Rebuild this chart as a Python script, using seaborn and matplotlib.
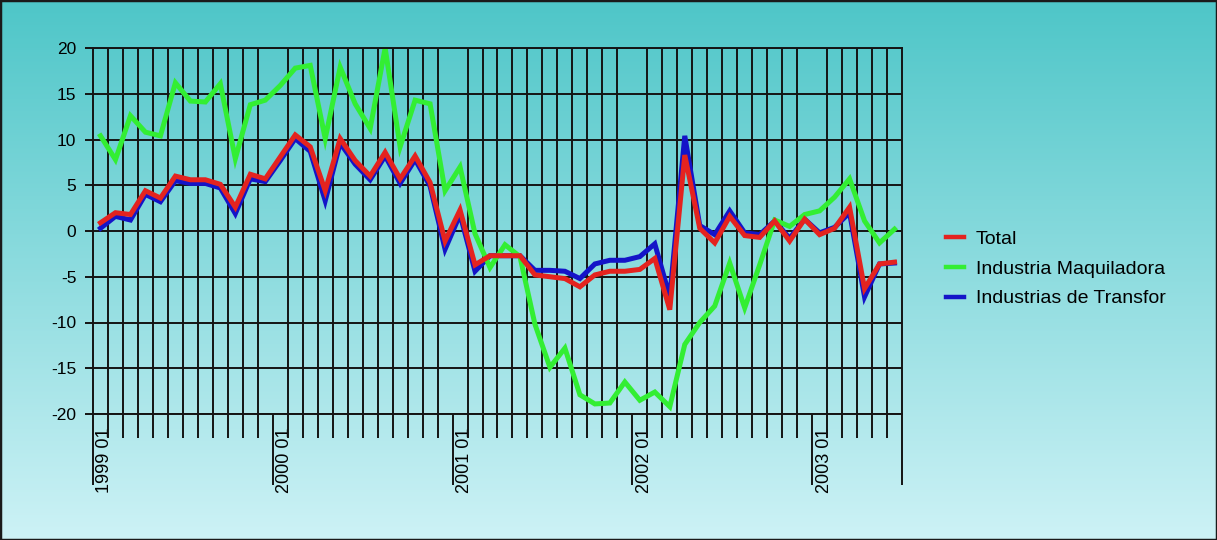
import numpy as np
import pandas as pd
import matplotlib
matplotlib.use("Agg")
import matplotlib.pyplot as plt
from matplotlib.patches import Rectangle
from matplotlib.lines import Line2D
import seaborn as sns

# Monthly growth series, January 1999 to June 2003
total = [0.9, 2.0, 1.8, 4.4, 3.6, 6.0, 5.6, 5.6, 5.1, 2.6, 6.2, 5.7,
         8.1, 10.5, 9.2, 4.4, 10.1, 7.7, 6.0, 8.6, 5.7, 8.2, 5.3, -1.1,
         2.3, -3.7, -2.7, -2.7, -2.7, -4.8, -5.0, -5.2, -6.1, -4.8, -4.4, -4.4,
         -4.2, -3.0, -8.6, 8.3, 0.3, -1.3, 1.6, -0.5, -0.7, 1.1, -1.1, 1.3,
         -0.4, 0.3, 2.6, -6.3, -3.6, -3.4]
maquiladora = [10.4, 7.8, 12.6, 10.8, 10.4, 16.2, 14.2, 14.1, 16.1, 7.9, 13.8, 14.3,
               15.9, 17.8, 18.1, 10.1, 17.9, 13.9, 11.2, 20.0, 9.2, 14.3, 13.9, 4.4,
               7.0, -0.3, -4.0, -1.5, -2.8, -10.2, -14.9, -12.8, -17.9, -18.9, -18.8, -16.5,
               -18.5, -17.6, -19.2, -12.4, -10.0, -8.2, -3.5, -8.4, -3.7, 1.2, 0.5, 1.8,
               2.2, 3.7, 5.7, 1.1, -1.3, 0.2]
transformacion = [0.3, 1.6, 1.2, 4.0, 3.2, 5.5, 5.2, 5.2, 4.7, 1.9, 5.7, 5.4,
                  7.7, 10.1, 8.7, 3.3, 9.6, 7.3, 5.6, 8.2, 5.2, 7.8, 4.9, -2.0,
                  1.8, -4.4, -2.7, -2.7, -2.7, -4.3, -4.3, -4.4, -5.2, -3.6, -3.2, -3.2,
                  -2.8, -1.4, -7.2, 10.4, 0.6, -0.4, 2.2, -0.2, -0.4, 1.1, -0.8, 1.3,
                  -0.2, 0.4, 2.0, -7.2, -3.6, -3.5]

series_names = ["Total", "Industria Maquiladora", "Industrias de Transfor"]
series_colors = ["#E4231F", "#33EE33", "#1414C8"]
year_labels = ["1999 01", "2000 01", "2001 01", "2002 01", "2003 01"]
y_ticks = [20, 15, 10, 5, 0, -5, -10, -15, -20]

n = len(total)
df = pd.DataFrame({
    "mes": np.tile(np.arange(n), 3),
    "valor": total + maquiladora + transformacion,
    "serie": np.repeat(series_names, n),
})

W, H = 1217, 540
fig = plt.figure(figsize=(W / 100, H / 100), dpi=100)

# vertical teal-to-pale-cyan background
bg = fig.add_axes([0, 0, 1, 1], zorder=-10)
grad = np.linspace(0, 1, 256)[:, None]
top_c = np.array([78, 198, 200]) / 255
bot_c = np.array([205, 242, 246]) / 255
img = top_c[None, None, :] * (1 - grad[..., None]) + bot_c[None, None, :] * grad[..., None]
img = np.repeat(img, 4, axis=1)
bg.imshow(img, aspect="auto", extent=[0, 1, 0, 1])
bg.set_axis_off()
fig.patches.append(Rectangle((0, 0), 1, 1, transform=fig.transFigure, fill=False,
                             edgecolor="#1a1a1a", linewidth=2.5))

ax = fig.add_axes([93 / W, 1 - 414 / H, (902 - 93) / W, (414 - 48) / H])
ax.set_facecolor("none")

palette = dict(zip(series_names, series_colors))
for name in ["Industrias de Transfor", "Industria Maquiladora", "Total"]:
    sns.lineplot(data=df[df["serie"] == name], x="mes", y="valor", color=palette[name],
                 linewidth=3.6, ax=ax, legend=False, solid_joinstyle="miter")

ax.set_xlim(-0.5, n - 0.5)
ax.set_ylim(-20, 20)
ax.set_xlabel("")
ax.set_ylabel("")

grid_c = "#141414"
# category boundaries: every month (minor) and every year (major, long ticks)
bounds = np.arange(n + 1) - 0.5
year_bounds = list(np.arange(0, n, 12) - 0.5) + [n - 0.5]
ax.set_xticks(year_bounds)
ax.set_xticklabels([])
ax.set_xticks(bounds, minor=True)
ax.tick_params(axis="x", which="major", length=51, width=1.4, color=grid_c, direction="out")
ax.tick_params(axis="x", which="minor", length=17, width=1.4, color=grid_c, direction="out")
ax.grid(True, which="minor", axis="x", color=grid_c, linewidth=1.4)
ax.set_yticks(y_ticks)
ax.set_yticklabels([str(v) for v in y_ticks], family=["Liberation Sans Narrow", "Liberation Sans"],
                   fontsize=12.5)
ax.tick_params(axis="y", length=6, width=1.4, color=grid_c, pad=6)
ax.grid(True, which="major", axis="y", color=grid_c, linewidth=1.4)
for s in ax.spines.values():
    s.set_color(grid_c)
    s.set_linewidth(1.4)

# year labels at the centre of each January
sec = ax.secondary_xaxis("bottom")
sec.set_xticks(np.arange(0, n, 12) + 0.3, labels=year_labels)
sec.tick_params(length=0, pad=10)
for t in sec.get_xticklabels():
    t.set_rotation(90)
    t.set_fontsize(13)
    t.set_family(["Liberation Sans Narrow", "Liberation Sans"])
    t.set_verticalalignment("top")
sec.spines["bottom"].set_visible(False)

handles = [Line2D([], [], color=c, linewidth=3.2) for c in series_colors]
fig.legend(handles, series_names, loc="center left", bbox_to_anchor=(936 / W, 1 - 269 / H),
           frameon=False, handlelength=0.95, handletextpad=0.6,
           labelspacing=0.62, borderpad=0, prop={"family": "Liberation Sans", "size": 14})

fig.savefig("out.png", dpi=100)
